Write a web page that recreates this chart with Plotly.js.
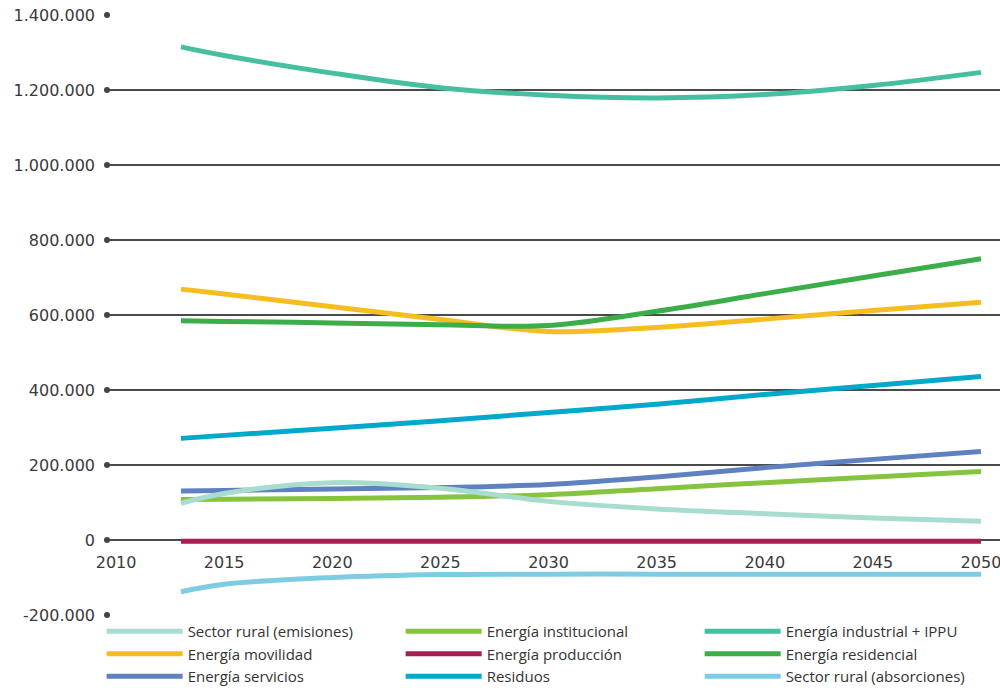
<!DOCTYPE html>
<html>
<head>
<meta charset="utf-8">
<script src="https://cdn.plot.ly/plotly-3.0.1.min.js"></script>
<style>html,body{margin:0;padding:0;background:#fff;}#chart{width:1000px;height:688px;}</style>
</head>
<body>
<div id="chart"></div>
<script>
// ---- data ----
const years = [2013, 2015, 2020, 2025, 2030, 2035, 2040, 2045, 2050];
const ruralEmisiones   = [98000, 124000, 153000, 138000, 103000, 83000, 70000, 59000, 50000];
const institucional    = [108000, 109000, 111000, 114000, 121000, 137000, 153000, 168000, 183000];
const industrialIPPU   = [1315000, 1292000, 1245000, 1206000, 1186000, 1179000, 1188000, 1212000, 1247000];
const movilidad        = [669000, 656000, 622000, 588000, 556000, 567000, 589000, 612000, 634000];
const produccion       = [-3000, -3000, -3000, -3000, -3000, -3000, -3000, -3000, -3000];
const residencial      = [585000, 583000, 579000, 574000, 572000, 610000, 657000, 704000, 750000];
const servicios        = [131000, 132000, 136000, 140000, 148000, 168000, 193000, 215000, 236000];
const residuos         = [271000, 279000, 298000, 318000, 340000, 362000, 388000, 412000, 436000];
const ruralAbsorciones = [-138000, -118000, -100000, -92000, -91000, -91000, -91000, -91000, -91000];

const seriesNames = [
  "Sector rural (emisiones)", "Energía institucional", "Energía industrial + IPPU",
  "Energía movilidad", "Energía producción", "Energía residencial",
  "Energía servicios", "Residuos", "Sector rural (absorciones)"
];
const seriesValues = [ruralEmisiones, institucional, industrialIPPU, movilidad, produccion,
                      residencial, servicios, residuos, ruralAbsorciones];
const seriesColors = ["#a8dccf", "#86c33f", "#46bfa0", "#f5bd1f", "#a81f55",
                      "#3cae49", "#5f81c1", "#00a8cc", "#7ecce2"];
// drawing order (bottom -> top)
const drawOrder = [4, 7, 3, 5, 1, 6, 0, 2, 8];

const xTicks = [2010, 2015, 2020, 2025, 2030, 2035, 2040, 2045, 2050];
const yTicks = [-200000, 0, 200000, 400000, 600000, 800000, 1000000, 1200000, 1400000];
const yTickText = ["-200.000", "0", "200.000", "400.000", "600.000", "800.000", "1.000.000", "1.200.000", "1.400.000"];
const xRange = [2009.58, 2050.88];
const yRange = [-200000, 1400000];

// ---- traces ----
const traces = drawOrder.map(i => ({
  type: "scatter",
  mode: "lines",
  name: seriesNames[i],
  x: years,
  y: seriesValues[i],
  line: {color: seriesColors[i], width: 5, shape: "spline", smoothing: 1},
  legendrank: i + 1,
  hoverinfo: "x+y+name"
}));

traces.push({
  type: "scatter",
  mode: "markers",
  x: yTicks.map(() => xRange[0]),
  y: yTicks,
  marker: {color: "#444", size: 6},
  cliponaxis: false,
  showlegend: false,
  hoverinfo: "skip"
});

const tickFont = {family: "DejaVu Sans", size: 16, color: "#3a3a3a"};

const layout = {
  width: 1000,
  height: 688,
  margin: {l: 107, r: 0, t: 15, b: 73, autoexpand: false},
  paper_bgcolor: "#fff",
  plot_bgcolor: "#fff",
  font: {family: "Open Sans", color: "#333"},
  xaxis: {
    range: xRange,
    tickvals: xTicks,
    ticktext: xTicks.map(String),
    showgrid: false,
    zeroline: false,
    showline: false,
    ticks: "",
    anchor: "free",
    position: 0.125,
    ticklabelstandoff: 11,
    ticklabeloverflow: "allow",
    tickfont: tickFont
  },
  yaxis: {
    range: yRange,
    tickvals: yTicks,
    ticktext: yTickText,
    showgrid: true,
    gridcolor: "#4a4a4a",
    gridwidth: 1.3,
    zeroline: false,
    showline: false,
    ticks: "",
    ticklabelstandoff: 11,
    tickfont: tickFont
  },
  legend: {
    orientation: "h",
    x: -0.006,
    xanchor: "left",
    y: 0,
    yanchor: "top",
    entrywidth: 208,
    entrywidthmode: "pixels",
    itemwidth: 76,
    traceorder: "normal",
    font: {family: "Open Sans", size: 15, color: "#333"},
    bgcolor: "rgba(0,0,0,0)"
  },
  showlegend: true
};

Plotly.newPlot("chart", traces, layout, {displayModeBar: false, staticPlot: true});
</script>
</body>
</html>
